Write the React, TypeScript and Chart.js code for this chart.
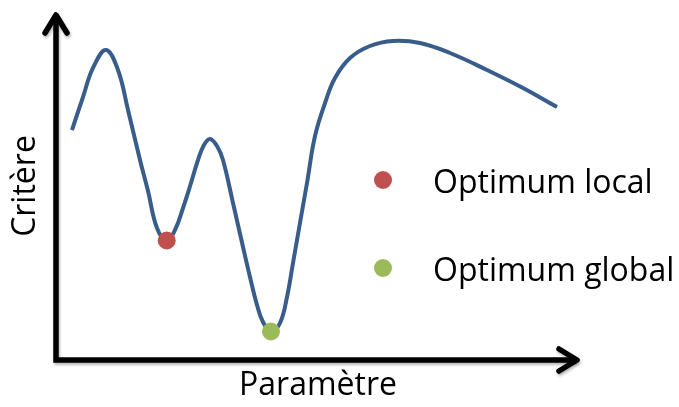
import React, { useEffect, useRef } from "react";
import { Chart, registerables } from "chart.js";

Chart.register(...registerables);

// Curve: parameter (x) vs criterion (y), arbitrary units 0–100
const curveX = [3.05, 5.15, 7.06, 9.54, 11.83, 13.74, 16.03, 17.56, 19.27, 21.13, 22.71, 24.24, 25.76, 27.10, 28.24, 29.39, 30.73, 31.87, 33.78, 35.69, 37.02, 38.36, 39.50, 41.03, 42.75, 44.08, 45.23, 46.56, 47.90, 49.43, 51.34, 53.24, 56.11, 59.92, 64.31, 69.47, 75.19, 82.25, 89.12, 95.61];
const curveY = [66.09, 75.57, 83.91, 89.08, 83.33, 71.84, 57.47, 48.56, 37.93, 34.34, 37.36, 43.68, 50.86, 57.47, 61.78, 63.51, 61.49, 57.47, 45.11, 32.47, 23.85, 15.80, 10.92, 8.19, 10.63, 18.10, 27.87, 39.37, 50.86, 64.37, 73.85, 81.03, 86.78, 90.23, 91.67, 91.09, 88.22, 83.33, 78.16, 72.70];

// Optima
const optimaX = [21.13, 41.03];
const optimaY = [34.34, 8.19];
const optimaColors = ["#C0504D", "#9BBB59"];
const legendLabels = ["Optimum local", "Optimum global"];

const xTitle = "Paramètre";
const yTitle = "Critère";

const FONT = "'Open Sans', 'DejaVu Sans', sans-serif";

const decorPlugin = {
  id: "decor",
  beforeDatasetsDraw(chart: any) {
    const { ctx, chartArea } = chart;
    const { left, top, right, bottom } = chartArea;
    ctx.save();
    ctx.strokeStyle = "#000";
    ctx.lineWidth = 5.5;
    ctx.shadowColor = "rgba(0,0,0,0.3)";
    ctx.shadowBlur = 3;
    ctx.shadowOffsetX = 1;
    ctx.shadowOffsetY = 2;
    ctx.lineJoin = "miter";
    ctx.lineCap = "butt";
    ctx.beginPath();
    ctx.moveTo(left, top + 4);
    ctx.lineTo(left, bottom);
    ctx.lineTo(right - 4, bottom);
    ctx.stroke();
    ctx.lineJoin = "round";
    ctx.lineCap = "round";
    ctx.beginPath();
    ctx.moveTo(left - 11, top + 21);
    ctx.lineTo(left, top + 3);
    ctx.lineTo(left + 11, top + 21);
    ctx.stroke();
    ctx.beginPath();
    ctx.moveTo(right - 21, bottom - 11);
    ctx.lineTo(right - 3, bottom);
    ctx.lineTo(right - 21, bottom + 11);
    ctx.stroke();
    ctx.restore();
  },
  afterDraw(chart: any) {
    const { ctx, chartArea } = chart;
    const { left, top, right, bottom } = chartArea;
    ctx.save();
    ctx.fillStyle = "#000";
    ctx.font = `32px ${FONT}`;
    ctx.textAlign = "center";
    ctx.textBaseline = "alphabetic";
    ctx.fillText(xTitle, (left + right) / 2, bottom + 35);
    ctx.save();
    ctx.translate(left - 21, (top + bottom) / 2);
    ctx.rotate(-Math.PI / 2);
    ctx.fillText(yTitle, 0, 0);
    ctx.restore();
    ctx.textAlign = "left";
    legendLabels.forEach((label, i) => {
      const cy = top + 168 + i * 88;
      ctx.fillStyle = optimaColors[i];
      ctx.beginPath();
      ctx.arc(left + 327, cy, 9, 0, Math.PI * 2);
      ctx.fill();
      ctx.fillStyle = "#000";
      ctx.fillText(label, left + 377, cy + 13);
    });
    ctx.restore();
  },
};

export default function App() {
  const canvasRef = useRef<HTMLCanvasElement | null>(null);

  useEffect(() => {
    if (!canvasRef.current) return;
    const curve = curveX.map((x, i) => ({ x, y: curveY[i] }));
    const optima = optimaX.map((x, i) => ({ x, y: optimaY[i] }));
    const chart = new Chart(canvasRef.current, {
      type: "line",
      data: {
        datasets: [
          {
            type: "scatter",
            label: "Optima",
            data: optima,
            backgroundColor: optimaColors,
            borderWidth: 0,
            pointRadius: 9,
            order: 0,
          } as any,
          {
            label: "Critère",
            data: curve,
            borderColor: "#385D8A",
            borderWidth: 4,
            pointRadius: 0,
            fill: false,
            tension: 0.4,
            order: 1,
          },
        ],
      },
      options: {
        responsive: false,
        animation: false,
        layout: { padding: { left: 56, top: 12, right: 99, bottom: 47 } },
        plugins: { legend: { display: false }, tooltip: { enabled: false } },
        scales: {
          x: { type: "linear", min: 0, max: 100, display: false },
          y: { type: "linear", min: 0, max: 100, display: false },
        },
      },
      plugins: [decorPlugin],
    });
    return () => chart.destroy();
  }, []);

  return (
    <div style={{ position: "fixed", left: 0, top: 0, width: 679, height: 407, background: "#fff" }}>
      <canvas ref={canvasRef} width={679} height={407} style={{ width: 679, height: 407 }} />
    </div>
  );
}
